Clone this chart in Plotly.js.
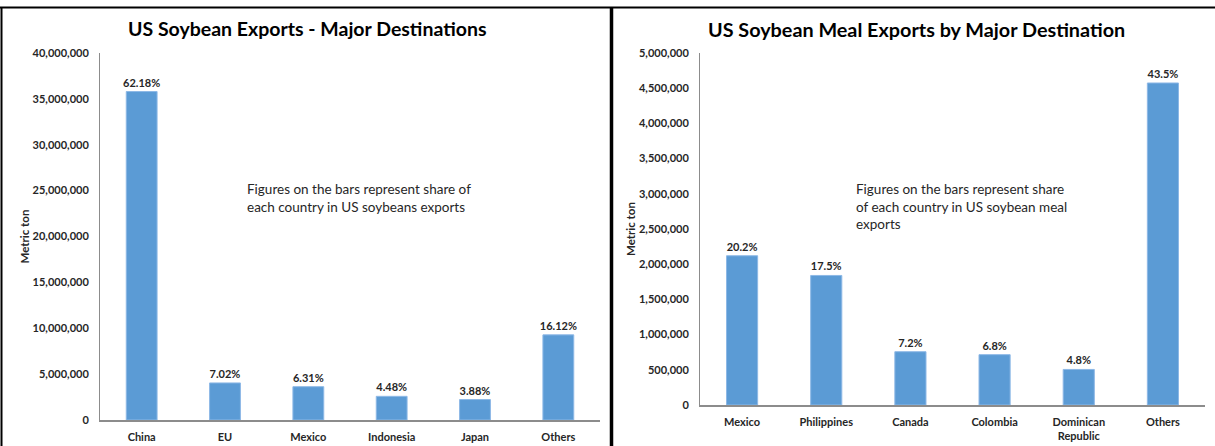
<!DOCTYPE html>
<html>
<head>
<meta charset="utf-8">
<script src="https://cdn.plot.ly/plotly-3.0.1.min.js"></script>
<style>
html,body{margin:0;padding:0;background:#fff;}
#chart{width:1215px;height:446px;}
</style>
</head>
<body>
<div id="chart"></div>
<script>
// Left chart: US soybean exports
const beanCountries = ["China", "EU", "Mexico", "Indonesia", "Japan", "Others"];
const beanTons = [35800000, 4040000, 3630000, 2580000, 2230000, 9280000];
const beanShares = ["62.18%", "7.02%", "6.31%", "4.48%", "3.88%", "16.12%"];
const beanTicks = [0, 5000000, 10000000, 15000000, 20000000, 25000000, 30000000, 35000000, 40000000];

// Right chart: US soybean meal exports
const mealCountries = ["Mexico", "Philippines", "Canada", "Colombia", "Dominican<br>Republic", "Others"];
const mealTons = [2120000, 1840000, 757000, 715000, 505000, 4574000];
const mealShares = ["20.2%", "17.5%", "7.2%", "6.8%", "4.8%", "43.5%"];
const mealTicks = [0, 500000, 1000000, 1500000, 2000000, 2500000, 3000000, 3500000, 4000000, 4500000, 5000000];

const FONT = "Lato, 'Open Sans', sans-serif";
const BAR = "#5B9BD5";
const W = 1215, H = 446;
const px = x => x / W;
const py = y => 1 - y / H;

const fmt = v => v.toLocaleString("en-US");

const labelFont = {family: FONT, size: 11, color: "#262626", weight: "bold"};

const traces = [
  {
    type: "bar", x: beanCountries, y: beanTons, xaxis: "x", yaxis: "y",
    marker: {color: BAR, line: {color: "#8DB8E6", width: 1}},
    text: beanShares, textposition: "outside", cliponaxis: false, constraintext: "none",
    textfont: labelFont, outsidetextfont: labelFont,
    hoverinfo: "x+y"
  },
  {
    type: "bar", x: mealCountries, y: mealTons, xaxis: "x2", yaxis: "y2",
    marker: {color: BAR, line: {color: "#8DB8E6", width: 1}},
    text: mealShares, textposition: "outside", cliponaxis: false, constraintext: "none",
    textfont: labelFont, outsidetextfont: labelFont,
    hoverinfo: "x+y"
  }
];

const tickFont = {family: FONT, size: 11, color: "#262626", weight: "bold"};
const axTitleFont = {family: FONT, size: 11.5, color: "#262626", weight: "bold"};

const layout = {
  width: W, height: H,
  margin: {l: 0, r: 0, t: 0, b: 0},
  paper_bgcolor: "#fff", plot_bgcolor: "#fff",
  showlegend: false,
  bargap: 0.63,
  font: {family: FONT},
  xaxis: {
    domain: [px(100), px(600)], anchor: "y",
    showline: true, linecolor: "#8C8C8C", linewidth: 1.5,
    ticks: "", tickfont: tickFont, showgrid: false, ticklabelstandoff: 6
  },
  yaxis: {
    domain: [py(420), py(53)], anchor: "x",
    range: [0, 40000000],
    tickvals: beanTicks, ticktext: beanTicks.map(fmt),
    showline: true, linecolor: "#8C8C8C", linewidth: 1,
    showgrid: false, zeroline: false, ticks: "", ticklabelstandoff: 8,
    tickfont: tickFont,
    title: {text: "Metric ton", font: axTitleFont, standoff: 0}
  },
  xaxis2: {
    domain: [px(700), px(1205)], anchor: "y2",
    showline: true, linecolor: "#8C8C8C", linewidth: 1.5,
    ticks: "", tickfont: tickFont, showgrid: false, ticklabelstandoff: 6
  },
  yaxis2: {
    domain: [py(405), py(53)], anchor: "x2",
    range: [0, 5000000],
    tickvals: mealTicks, ticktext: mealTicks.map(fmt),
    showline: true, linecolor: "#8C8C8C", linewidth: 1,
    showgrid: false, zeroline: false, ticks: "", ticklabelstandoff: 8,
    tickfont: tickFont,
    title: {text: "Metric ton", font: axTitleFont, standoff: 0}
  },
  annotations: [
    {text: "<b>US Soybean Exports - Major Destinations</b>", xref: "paper", yref: "paper",
     x: px(307), y: py(29), xanchor: "center", yanchor: "middle", showarrow: false,
     font: {family: FONT, size: 19.5, color: "#000"}},
    {text: "<b>US Soybean Meal Exports by Major Destination</b>", xref: "paper", yref: "paper",
     x: px(916), y: py(29), xanchor: "center", yanchor: "middle", showarrow: false,
     font: {family: FONT, size: 19.8, color: "#000"}},
    {text: "Figures on the bars represent share of<br>each country in US soybeans exports", xref: "paper", yref: "paper",
     x: px(245), y: py(179), xanchor: "left", yanchor: "top", align: "left", showarrow: false,
     font: {family: FONT, size: 13.5, color: "#262626"}},
    {text: "Figures on the bars represent share<br>of each country in US soybean meal<br>exports", xref: "paper", yref: "paper",
     x: px(854), y: py(179), xanchor: "left", yanchor: "top", align: "left", showarrow: false,
     font: {family: FONT, size: 13.5, color: "#262626"}}
  ],
  shapes: [
    {type: "line", xref: "paper", yref: "paper", x0: 0, x1: 1, y0: py(7.5), y1: py(7.5), line: {color: "#000", width: 2}},
    {type: "line", xref: "paper", yref: "paper", x0: px(1.5), x1: px(1.5), y0: 0, y1: py(7), line: {color: "#000", width: 2}},
    {type: "line", xref: "paper", yref: "paper", x0: px(611.5), x1: px(611.5), y0: 0, y1: py(7), line: {color: "#000", width: 3.5}}
  ]
};

Plotly.newPlot("chart", traces, layout, {displayModeBar: false, staticPlot: true});
</script>
</body>
</html>
